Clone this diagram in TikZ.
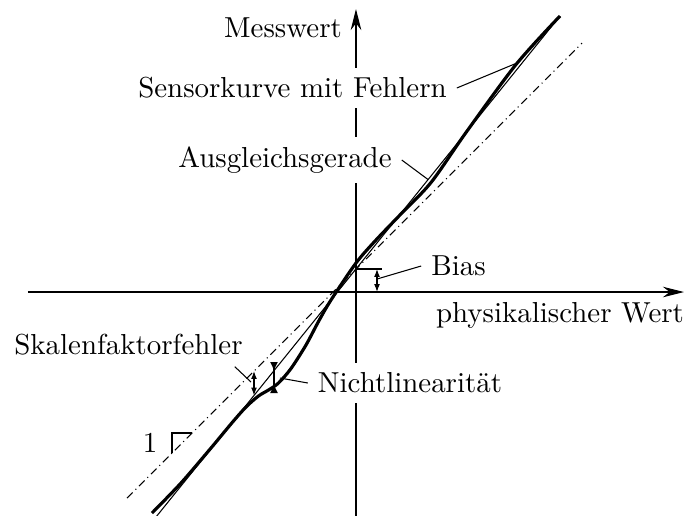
\documentclass[11pt,tikz,border=0pt]{standalone}
\usepackage{tikz}
\usetikzlibrary{arrows.meta,positioning,calc}
\tikzset{
  axis/.style={-{Stealth[length=8pt,width=4pt]}, thin},
  sensor/.style={very thick, line join=round},
  fitline/.style={thin},
  ideal/.style={thin, dash pattern=on 3pt off 1.5pt on 0.4pt off 1.5pt},
  tag/.style={fill=white},
  pointer/.style={thin},
  dimarrow/.style={thin, {Latex[length=3pt,width=2.2pt]}-{Latex[length=3pt,width=2.2pt]}},
  nlbar/.style={semithick, {Latex[length=3.5pt,width=3pt,reversed]}-{Latex[length=3.5pt,width=3pt,reversed]}}
}

\begin{document}
\begin{tikzpicture}[scale=0.6656]
  \useasboundingbox (-7.12,-4.46) rectangle (6.62,5.84);
  % axes
  \draw[axis] (-6.56,0) -- (6.56,0);
  \draw[axis] (0,-4.5) -- (0,5.66);
  % labels (white background cuts the axis)
  \node[left] (messwert) at (-0.08,5.28) {Messwert};
  \node (physwert) at (4.08,-0.46) {physikalischer Wert};
  \node[tag] (sensorkurve) at (-1.27,4.08) {Sensorkurve mit Fehlern};
  \node[tag] (ausgleich) at (-1.42,2.64) {Ausgleichsgerade};
  \node (bias) at (2.05,0.52) {Bias};
  \node (skalen) at (-4.55,-1.06) {Skalenfaktorfehler};
  \node[tag] (nichtlin) at (1.08,-1.82) {Nichtlinearität};
  % ideal line, fit line and sensor curve
  \draw[ideal] (-4.58,-4.12) -- (4.52,4.98);
  \draw[fitline] (-4.0,-4.5) -- (4.08,5.52);
  \draw[sensor] plot[smooth] coordinates {(-4.08,-4.42) (-3.5,-3.82) (-2.9,-3.12) (-2.48,-2.615) (-2.2,-2.30) (-1.95,-2.08) (-1.75,-1.96) (-1.55,-1.82) (-1.3,-1.53) (-1.0,-1.06) (-0.75,-0.59) (-0.5,-0.16) (0,0.58) (0.4,1.04) (0.85,1.51) (1.5,2.19) (2.2,3.19) (3.2,4.55) (4.08,5.52)};
  % pointers
  \coordinate (skpt) at (3.22,4.58);
  \coordinate (agpt) at (1.44,2.25);
  \draw[pointer] (sensorkurve.east) -- (skpt);
  \draw[pointer] (ausgleich.east) -- (agpt);
  % bias
  \draw[thin] (0,0.46) -- (0.52,0.46);
  \draw[dimarrow] (0.42,0.46) -- (0.42,0);
  \coordinate (biaspt) at (0.42,0.26);
  \draw[pointer] (bias.west) -- (biaspt);
  % scale factor error
  \draw[dimarrow] (-2.04,-1.58) -- (-2.04,-2.07);
  \coordinate (sfpt) at (-2.1,-1.8);
  \draw[pointer] ($(skalen.south east)+(-0.36,-0.02)$) -- (sfpt);
  % nonlinearity
  \draw[nlbar] (-1.64,-1.40) -- (-1.64,-2.02);
  \coordinate (nlpt) at (-1.52,-1.72);
  \draw[pointer] (nichtlin.west) -- (nlpt);
  % slope triangle
  \draw[thin] (-3.68,-3.22) |- (-3.28,-2.82);
  \node (eins) at (-4.12,-3.02) {1};
\end{tikzpicture}
\end{document}
